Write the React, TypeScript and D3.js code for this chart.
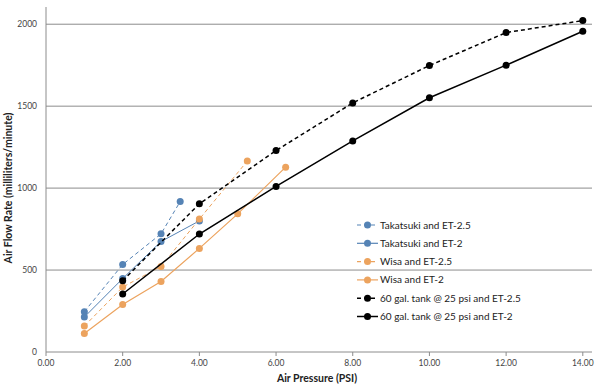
import React, { useEffect, useRef } from 'react';
import * as d3 from 'd3';

// Datos
const seriesNames = [
  'Takatsuki and ET-2.5',
  'Takatsuki and ET-2',
  'Wisa and ET-2.5',
  'Wisa and ET-2',
  '60 gal. tank @ 25 psi and ET-2.5',
  '60 gal. tank @ 25 psi and ET-2',
];
const takatsuki25X = [1, 2, 3, 3.5];
const takatsuki25Y = [246, 534, 721, 918];
const takatsuki2X = [1, 2, 3, 4];
const takatsuki2Y = [213, 448, 674, 800];
const wisa25X = [1, 2, 3, 4, 5.25];
const wisa25Y = [158, 396, 522, 811, 1165];
const wisa2X = [1, 2, 3, 4, 5, 6.25];
const wisa2Y = [113, 290, 430, 632, 843, 1128];
const tank25X = [2, 4, 6, 8, 10, 12, 14];
const tank25Y = [435, 904, 1229, 1520, 1748, 1949, 2022];
const tank2X = [2, 4, 6, 8, 10, 12, 14];
const tank2Y = [354, 720, 1010, 1288, 1551, 1750, 1957];
const xTicks = [0, 2, 4, 6, 8, 10, 12, 14];
const yTicks = [0, 500, 1000, 1500, 2000];

const BLUE = '#5583b5';
const ORANGE = '#eca35e';

const App = () => {
  const ref = useRef<SVGSVGElement>(null);

  useEffect(() => {
    const svg = d3.select(ref.current);
    svg.selectAll('*').remove();

    const left = 46, right = 592, top = 7, bottom = 352;
    const x = d3.scaleLinear().domain([0, 14.24]).range([left, right]);
    const y = d3.scaleLinear().domain([0, 2105]).range([bottom, top]);
    const font = 'Lato, "Open Sans", sans-serif';

    // Rejilla
    svg.append('g')
      .selectAll('line')
      .data(yTicks.slice(1))
      .enter()
      .append('line')
      .attr('x1', left).attr('x2', right)
      .attr('y1', d => y(d)).attr('y2', d => y(d))
      .attr('stroke', '#8c8c8c').attr('stroke-width', 1);

    // Ejes
    svg.append('line')
      .attr('x1', left).attr('x2', left).attr('y1', top).attr('y2', bottom)
      .attr('stroke', '#8c8c8c');
    svg.append('line')
      .attr('x1', left).attr('x2', right).attr('y1', bottom).attr('y2', bottom)
      .attr('stroke', '#8c8c8c');
    svg.append('g')
      .selectAll('line')
      .data(xTicks)
      .enter()
      .append('line')
      .attr('x1', d => x(d)).attr('x2', d => x(d))
      .attr('y1', bottom).attr('y2', bottom + 4)
      .attr('stroke', '#8c8c8c');

    svg.append('g')
      .selectAll('text')
      .data(xTicks)
      .enter()
      .append('text')
      .attr('x', d => x(d)).attr('y', 366)
      .attr('text-anchor', 'middle')
      .attr('font-family', font).attr('font-size', 8.5).attr('fill', '#444')
      .text(d => d.toFixed(2));

    svg.append('g')
      .selectAll('text')
      .data(yTicks)
      .enter()
      .append('text')
      .attr('x', 37).attr('y', d => y(d) + 3)
      .attr('text-anchor', 'end')
      .attr('font-family', font).attr('font-size', 8.5).attr('fill', '#444')
      .text(d => String(d));

    svg.append('text')
      .attr('x', 317).attr('y', 382)
      .attr('text-anchor', 'middle')
      .attr('font-family', font).attr('font-size', 10.5).attr('font-weight', 'bold').attr('fill', '#222')
      .text('Air Pressure (PSI)');

    svg.append('text')
      .attr('transform', `translate(12,188) rotate(-90)`)
      .attr('text-anchor', 'middle')
      .attr('font-family', font).attr('font-size', 10.5).attr('font-weight', 'bold').attr('fill', '#222')
      .text('Air Flow Rate (milliliters/minute)');

    // Series
    const series = [
      { xs: takatsuki25X, ys: takatsuki25Y, color: BLUE, dash: '4,3', w: 1, r: 3.5 },
      { xs: takatsuki2X, ys: takatsuki2Y, color: BLUE, dash: null, w: 1, r: 3.5 },
      { xs: wisa25X, ys: wisa25Y, color: ORANGE, dash: '4,3', w: 1, r: 3.5 },
      { xs: wisa2X, ys: wisa2Y, color: ORANGE, dash: null, w: 1.2, r: 3.5 },
      { xs: tank25X, ys: tank25Y, color: '#000', dash: '4,3', w: 1.5, r: 3.5 },
      { xs: tank2X, ys: tank2Y, color: '#000', dash: null, w: 1.5, r: 3.5 },
    ];

    const line = d3.line<number[]>().x(d => x(d[0])).y(d => y(d[1]));

    series.forEach(s => {
      const pts = s.xs.map((v, i) => [v, s.ys[i]]);
      svg.append('path')
        .datum(pts)
        .attr('fill', 'none')
        .attr('stroke', s.color)
        .attr('stroke-width', s.w)
        .attr('stroke-dasharray', s.dash)
        .attr('d', line);
      svg.append('g')
        .selectAll('circle')
        .data(pts)
        .enter()
        .append('circle')
        .attr('cx', d => x(d[0])).attr('cy', d => y(d[1]))
        .attr('r', s.r)
        .attr('fill', s.color);
    });

    // Leyenda
    const leg = svg.append('g');
    series.forEach((s, i) => {
      const ly = 225 + i * 18.3;
      leg.append('line')
        .attr('x1', 357).attr('x2', 378).attr('y1', ly).attr('y2', ly)
        .attr('stroke', s.color).attr('stroke-width', s.w === 1 ? 1.2 : s.w)
        .attr('stroke-dasharray', s.dash);
      leg.append('circle')
        .attr('cx', 367.5).attr('cy', ly).attr('r', s.r).attr('fill', s.color);
      leg.append('text')
        .attr('x', 380).attr('y', ly + 3.5)
        .attr('font-family', font).attr('font-size', 10).attr('fill', '#222')
        .text(seriesNames[i]);
    });
  }, []);

  return (
    <svg ref={ref} width={600} height={392}
      style={{ position: 'absolute', left: 0, top: 0, background: '#fff' }} />
  );
};

export default App;
